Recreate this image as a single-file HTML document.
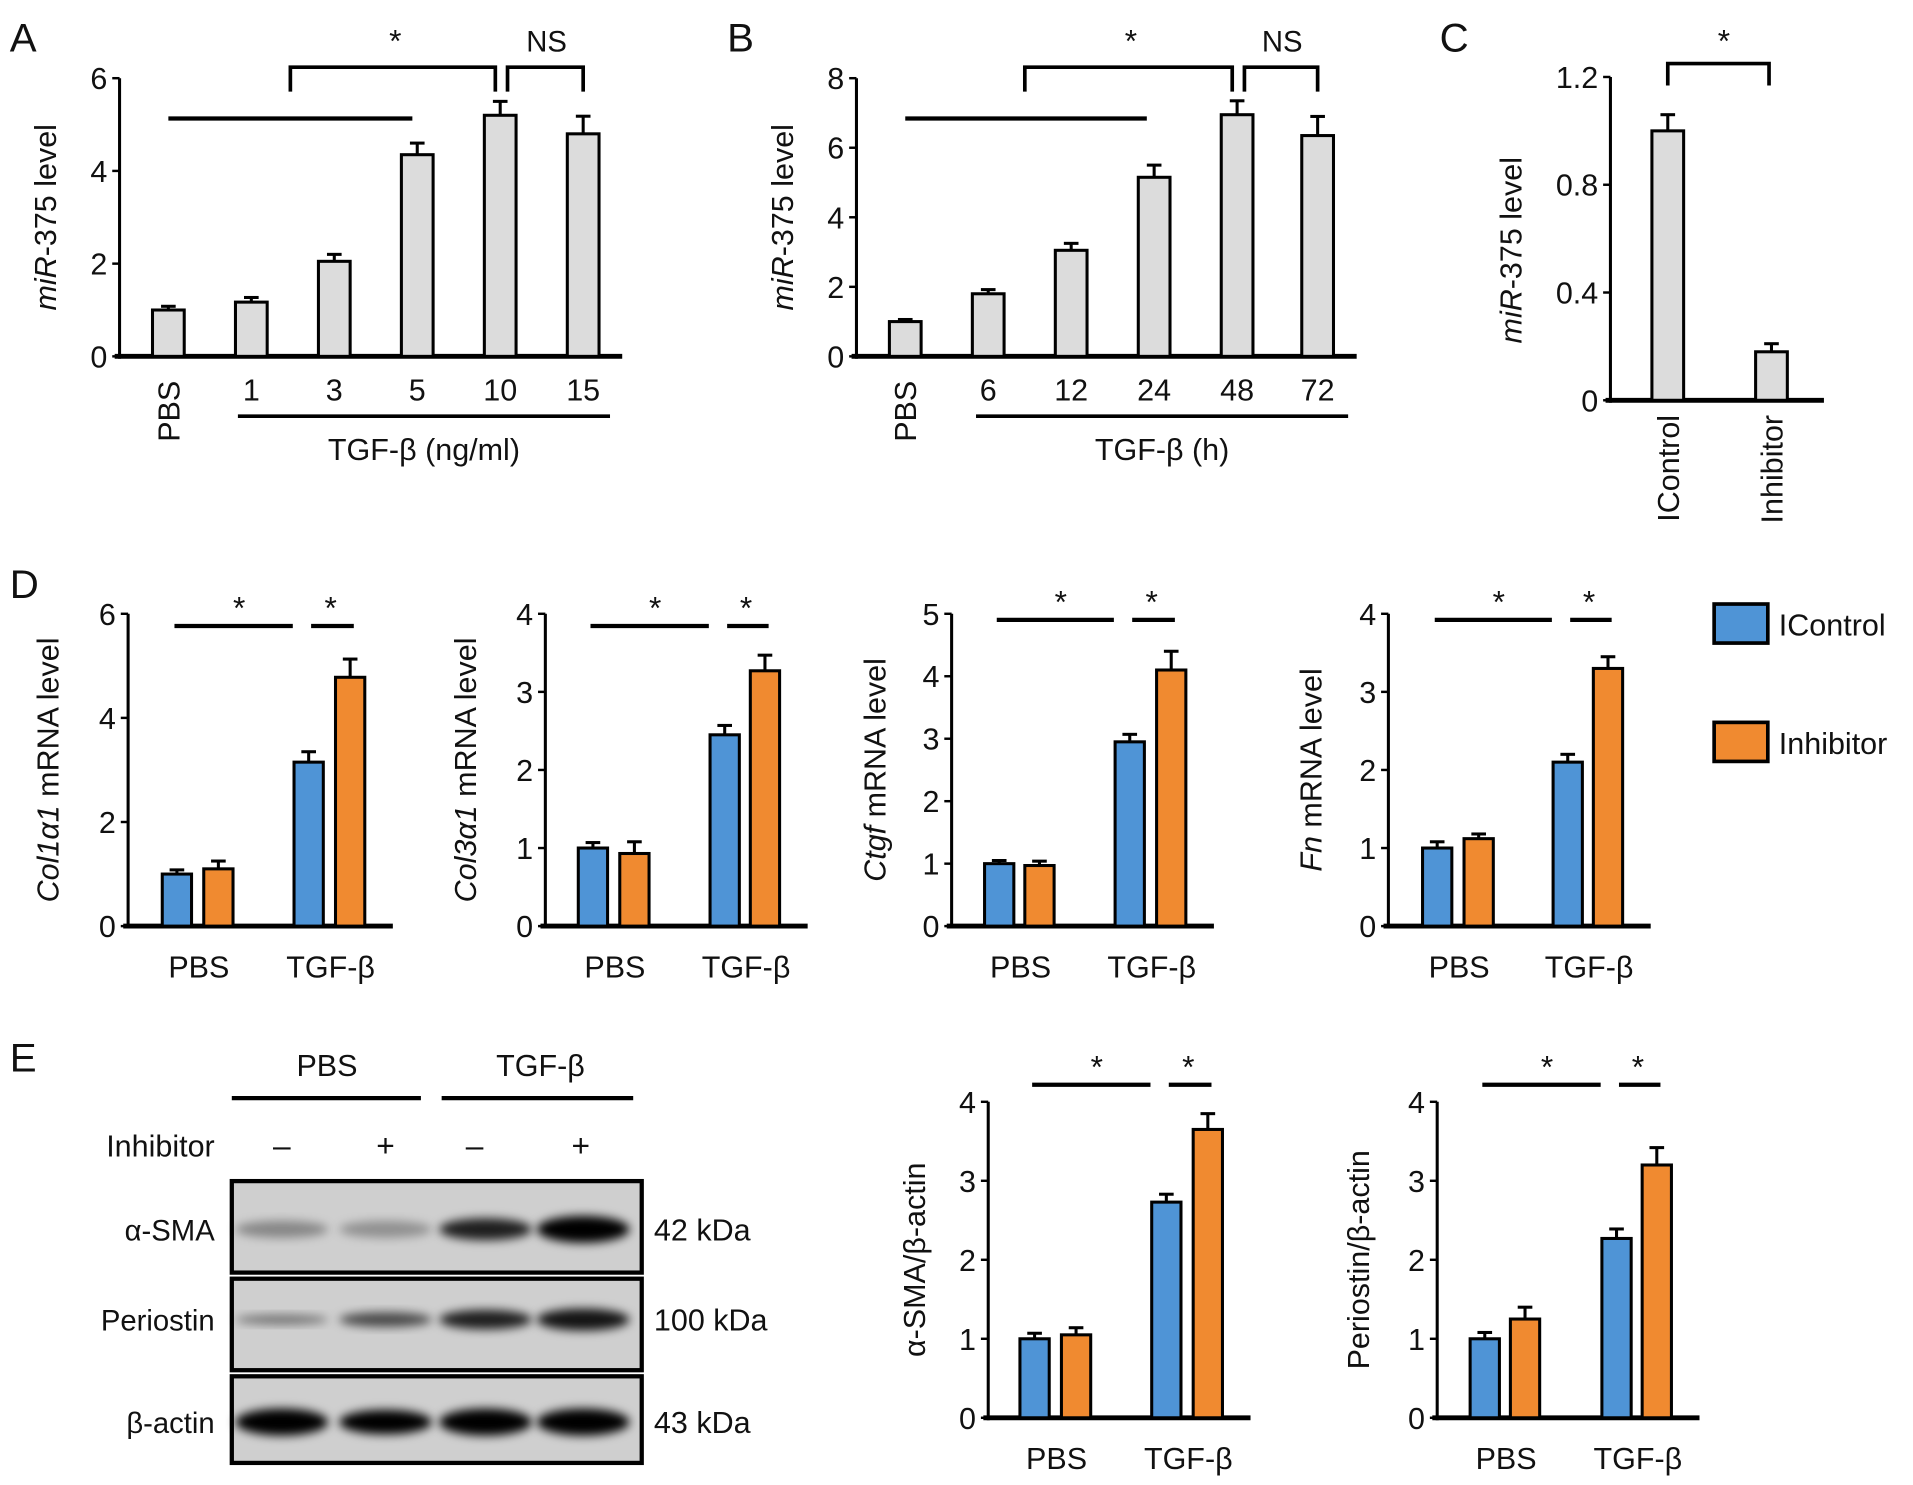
<!DOCTYPE html>
<html><head><meta charset="utf-8"><style>
html,body{margin:0;padding:0;background:#fff;}
svg{display:block;font-family:"Liberation Sans",sans-serif;}
</style></head><body>
<svg id="fig" width="1913" height="1485" viewBox="0 0 1568 1217" xmlns="http://www.w3.org/2000/svg">
<defs><filter id="blur" x="-20%" y="-50%" width="140%" height="200%"><feGaussianBlur stdDeviation="4"/></filter></defs>
<g id="root"></g>
</svg>
<script>
// ---- data ----
const aCats = ["1","3","5","10","15"];
const aVals = [1.0,1.17,2.05,4.35,5.2,4.8];
const aErr = [0.08,0.1,0.15,0.25,0.3,0.38];
const bCats = ["6","12","24","48","72"];
const bVals = [1.0,1.8,3.05,5.15,6.95,6.35];
const bErr = [0.06,0.12,0.2,0.35,0.4,0.55];
const cCats = ["IControl","Inhibitor"];
const cVals = [1.0,0.18];
const cErr = [0.06,0.03];
const groups = ["PBS","TGF-β"];
const col1Ctrl = [1.0,3.15], col1Inh = [1.1,4.78], col1ErrC=[0.08,0.2], col1ErrI=[0.15,0.35];
const col3Ctrl = [1.0,2.45], col3Inh = [0.93,3.27], col3ErrC=[0.07,0.12], col3ErrI=[0.15,0.2];
const ctgfCtrl = [1.0,2.95], ctgfInh = [0.97,4.1], ctgfErrC=[0.05,0.12], ctgfErrI=[0.07,0.3];
const fnCtrl = [1.0,2.1], fnInh = [1.12,3.3], fnErrC=[0.08,0.1], fnErrI=[0.06,0.15];
const smaCtrl = [1.0,2.73], smaInh = [1.05,3.65], smaErrC=[0.07,0.1], smaErrI=[0.09,0.2];
const perCtrl = [1.0,2.27], perInh = [1.25,3.2], perErrC=[0.08,0.12], perErrI=[0.15,0.22];

const NS="http://www.w3.org/2000/svg";
const root=document.getElementById('root');
function el(tag,attrs,parent){const e=document.createElementNS(NS,tag);for(const k in attrs)e.setAttribute(k,attrs[k]);(parent||root).appendChild(e);return e;}
function txt(x,y,s,size,anchor,parent,extra){const t=el('text',Object.assign({x:x,y:y,'font-size':size,'text-anchor':anchor||'middle',fill:'#111'},extra||{}),parent);t.textContent=s;return t;}
function line(x1,y1,x2,y2,w,parent){return el('line',{x1,y1,x2,y2,stroke:'#000','stroke-width':w||3},parent);}

function axes(g,ax,y0,yTop,max,ticks,xEnd,fmt){
  const ys=v=>y0-(v/max)*(y0-yTop);
  line(ax,y0+2,ax,yTop,2.5,g);
  line(ax-4,y0,xEnd,y0,4,g);
  ticks.forEach(t=>{line(ax-6,ys(t),ax,ys(t),2,g);txt(ax-10,ys(t)+9,fmt?fmt(t):String(t),25,'end',g);});
  return ys;
}
function bar(g,cx,w,v,e,ys,y0,fill,name){
  const r=el('rect',{x:cx-w/2,y:ys(v),width:w,height:y0-ys(v),fill:fill,stroke:'#000','stroke-width':2.5},g);
  
  
  line(cx,ys(v),cx,ys(v+e),2.5,g);
  line(cx-6,ys(v+e),cx+6,ys(v+e),2.5,g);
}
function ylabel(g,x,y,parts){
  const t=el('text',{transform:`translate(${x},${y}) rotate(-90)`,'font-size':25,'text-anchor':'middle',fill:'#111'},g);
  parts.forEach(p=>{const s=el('tspan',p[1]?{'font-style':'italic'}:{},t);s.textContent=p[0];});
  return t;
}
function panelLetter(x,y,s){const t=txt(x,y,s,33,'start');}

panelLetter(8,42,"A");panelLetter(596,42,"B");panelLetter(1180,42,"C");panelLetter(8,490,"D");panelLetter(8,878,"E");

// Panel A & B
function timePanel(name,ax,max,ticks,vals,errs,cats,centers,sig,tgfText,tgfLine){
  const g=el('g',{});
  const y0=292,yTop=64;
  const ys=axes(g,ax,y0,yTop,max,ticks,centers[centers.length-1]+32);
  vals.forEach((v,i)=>bar(g,centers[i],26,v,errs[i],ys,y0,'#dcdcdc','bar-'+(i==0?'pbs':cats[i-1])));
  const pl=el('text',{transform:`translate(${centers[0]+9},${y0+20}) rotate(-90)`,'font-size':25,'text-anchor':'end',fill:'#111'},g);pl.textContent='PBS';
  cats.forEach((c,i)=>txt(centers[i+1],y0+36,c,25,'middle',g));
  line(tgfLine[0],341,tgfLine[1],341,3,g);
  txt((tgfLine[0]+tgfLine[1])/2,377,tgfText,25,'middle',g);
  ylabel(g,ax-52,178,[["miR",1],["-375 level",0]]);
  line(centers[0],97,sig[0],97,3.5,g);
  el('path',{d:`M${sig[1]},75 V55 H${centers[4]-4} V75 M${centers[4]+6},75 V55 H${centers[5]} V75`,fill:'none',stroke:'#000','stroke-width':3},g);
  txt((sig[1]+centers[4])/2,42,'*',26,'middle',g);
  txt((centers[4]+centers[5])/2+4,42,'NS',24,'middle',g);
}
timePanel('panel-a-chart',98,6,[0,2,4,6],aVals,aErr,aCats,[138,206,274,342,410,478],[338,238],'TGF-β (ng/ml)',[195,500]);
timePanel('panel-b-chart',702,8,[0,2,4,6,8],bVals,bErr,bCats,[742,810,878,946,1014,1080],[940,840],'TGF-β (h)',[800,1105]);

// Panel C
(function(){
  const g=el('g',{});
  const y0=328,yTop=63,cx=[1367,1452];
  const ys=axes(g,1320,y0,yTop,1.2,[0,0.4,0.8,1.2],1495,t=>t===0?'0':t.toFixed(1));
  cVals.forEach((v,i)=>bar(g,cx[i],26,v,cErr[i],ys,y0,'#dcdcdc','bar-'+cCats[i].toLowerCase()));
  cCats.forEach((c,i)=>{const t=el('text',{transform:`translate(${cx[i]+9},${y0+12}) rotate(-90)`,'font-size':25,'text-anchor':'end',fill:'#111'},g);t.textContent=c;});
  ylabel(g,1247,205,[["miR",1],["-375 level",0]]);
  el('path',{d:`M1367,70 V52 H1450 V70`,fill:'none',stroke:'#000','stroke-width':3},g);
  txt(1413,42,'*',26,'middle',g);
})();

// Grouped panels
function grouped(name,ax,y0,yTop,max,ticks,ctrl,inh,ec,ei,centers,sigY,labelParts,labX,xEnd){
  const g=el('g',{});
  const ys=axes(g,ax,y0,yTop,max,ticks,xEnd);
  groups.forEach((gr,i)=>{
    bar(g,centers[2*i],24,ctrl[i],ec[i],ys,y0,'#4f94d6','bar-icontrol-'+(i?'tgf':'pbs'));
    bar(g,centers[2*i+1],24,inh[i],ei[i],ys,y0,'#f08a30','bar-inhibitor-'+(i?'tgf':'pbs'));
    txt((centers[2*i]+centers[2*i+1])/2+1,y0+42,gr,25,'middle',g);
  });
  line(centers[0]-2,sigY,centers[2]-13,sigY,3.5,g);
  line(centers[2]+2,sigY,centers[3]+3,sigY,3.5,g);
  txt((centers[0]+centers[2])/2-3,sigY-6,'*',26,'middle',g);
  txt((centers[2]+centers[3])/2+1,sigY-6,'*',26,'middle',g);
  ylabel(g,labX,(y0+yTop)/2,labelParts);
}
grouped('col1a1-chart',105,759,503,6,[0,2,4,6],col1Ctrl,col1Inh,col1ErrC,col1ErrI,[145,179,253,287],513,[["Col1α1",1],[" mRNA level",0]],48,322);
grouped('col3a1-chart',447,759,503,4,[0,1,2,3,4],col3Ctrl,col3Inh,col3ErrC,col3ErrI,[486,520,594,627],513,[["Col3α1",1],[" mRNA level",0]],390,662);
grouped('ctgf-chart',780,759,503,5,[0,1,2,3,4,5],ctgfCtrl,ctgfInh,ctgfErrC,ctgfErrI,[819,852,926,960],508,[["Ctgf",1],[" mRNA level",0]],726,995);
grouped('fn-chart',1138,759,503,4,[0,1,2,3,4],fnCtrl,fnInh,fnErrC,fnErrI,[1178,1212,1285,1318],508,[["Fn",1],[" mRNA level",0]],1083,1353);
grouped('sma-chart',810,1162,903,4,[0,1,2,3,4],smaCtrl,smaInh,smaErrC,smaErrI,[848,882,956,990],889,[["α-SMA/β-actin",0]],758,1025);
grouped('periostin-chart',1178,1162,903,4,[0,1,2,3,4],perCtrl,perInh,perErrC,perErrI,[1217,1250,1325,1358],889,[["Periostin/β-actin",0]],1122,1393);

// Legend
(function(){
  const g=el('g',{});
  const r1=el('rect',{x:1405,y:495,width:44,height:32,fill:'#4f94d6',stroke:'#000','stroke-width':3},g);
  
  txt(1458,521,'IControl',25,'start',g);
  const r2=el('rect',{x:1405,y:592,width:44,height:32,fill:'#f08a30',stroke:'#000','stroke-width':3},g);
  
  txt(1458,618,'Inhibitor',25,'start',g);
})();

// Western blot
(function(){
  const g=el('g',{});
  txt(268,882,'PBS',25,'middle',g);txt(443,882,'TGF-β',25,'middle',g);
  line(190,900,345,900,3.5,g);line(362,900,519,900,3.5,g);
  txt(176,948,'Inhibitor',25,'end',g);
  [['–',231],['+',316],['–',389],['+',476]].forEach(p=>txt(p[1],948,p[0],26,'middle',g));
  const rows=[[968,1043,'α-SMA','42 kDa'],[1048,1123,'Periostin','100 kDa'],[1128,1199,'β-actin','43 kDa']];
  const lanes=[231,316,398,478];
  const bands=[[[0.35,14],[0.3,14],[0.85,18],[1,22]],[[0.45,8],[0.65,12],[0.85,16],[0.9,18]],[[1,22],[1,20],[1,22],[1,22]]];
  rows.forEach((r,i)=>{
    const box=el('rect',{x:190,y:r[0],width:336,height:r[1]-r[0],fill:'#cfcfcf',stroke:'#000','stroke-width':3.5},g);
    
    const cy=(r[0]+r[1])/2+(i===1?-4:2);
    lanes.forEach((lx,j)=>{const b=bands[i][j];el('ellipse',{cx:lx,cy:cy,rx:38,ry:b[1]/2,fill:'#000','fill-opacity':b[0],filter:'url(#blur)'},g);});
    txt(176,cy+9,r[2],24,'end',g);txt(536,cy+9,r[3],25,'start',g);
  });
})();
</script>
</body></html>
